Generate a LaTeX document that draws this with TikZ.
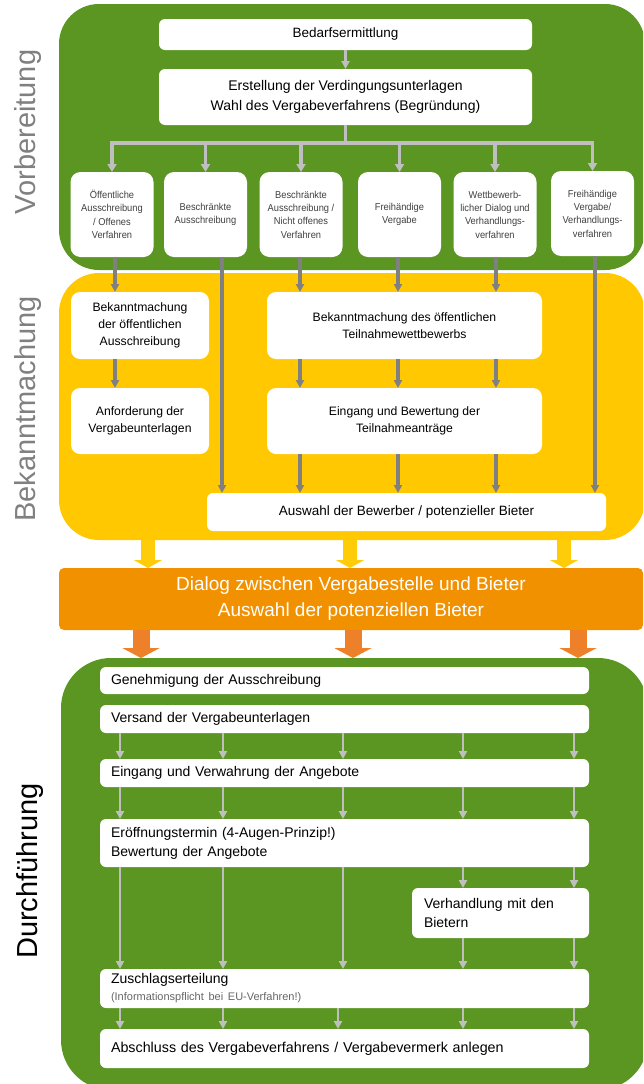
\documentclass[tikz,border=0pt]{standalone}
\usepackage{fontspec}
\setmainfont{Liberation Sans}
\newfontfamily\narrowfont[FakeStretch=0.93]{Liberation Sans}
\usetikzlibrary{calc}
\usetikzlibrary{arrows.meta}

\definecolor{panelgreen}{RGB}{90,150,33}
\definecolor{panelyellow}{RGB}{255,200,0}
\definecolor{dialogorange}{RGB}{242,145,0}
\definecolor{arroworange}{RGB}{238,128,42}
\definecolor{arrowyellow}{RGB}{255,204,10}
\definecolor{lightline}{RGB}{191,191,191}
\definecolor{darkline}{RGB}{128,128,128}
\definecolor{labelgray}{RGB}{128,128,128}

\tikzset{
  panel/.style={inner sep=0pt, outer sep=0pt},
  wbox/.style={fill=white, rounded corners=6pt, inner sep=0pt, outer sep=0pt, align=center, text=black},
  smallbox/.style={wbox, rounded corners=10pt, minimum width=83pt, minimum height=85pt,
    font=\narrowfont\fontsize{10}{13.3}\selectfont, text=black!75},
  midbox/.style={wbox, rounded corners=9pt, font=\fontsize{12.2}{17.3}\selectfont},
  rowbox/.style={wbox, align=left, inner xsep=11pt, text width=467pt, font=\fontsize{14}{19}\selectfont},
  sidelabel/.style={rotate=90, anchor=base, font=\fontsize{29}{30}\selectfont, text=labelgray},
  lightarrow/.style={lightline, line width=2.5pt, -{Triangle[width=8pt,length=8pt]}},
  brancharrow/.style={lightline, line width=3.5pt, -{Triangle[width=9pt,length=8pt]}},
  darkarrow/.style={darkline, line width=3.5pt, -{Triangle[width=8pt,length=8pt]}},
  yblock/.style={arrowyellow, line width=14pt, -{Triangle[width=28pt,length=8pt]}},
  oblock/.style={arroworange, line width=17pt, -{Triangle[width=37pt,length=10pt]}}
}

\begin{document}
\begin{tikzpicture}[x=1pt,y=-1pt]

\path[use as bounding box, clip] (0,0) rectangle (643,1084);

\node[panel, fill=panelgreen, rounded corners=40pt, minimum width=586pt, minimum height=266pt] (vorb) at (352,137) {};
\node[panel, fill=panelyellow, rounded corners=40pt, minimum width=586pt, minimum height=267pt] (bek) at (352,406.5) {};
\node[panel, fill=dialogorange, rounded corners=5pt, minimum width=584pt, minimum height=62pt,
  text=white, align=center, font=\fontsize{19}{26}\selectfont] (dialog) at (351,599)
  {Dialog zwischen Vergabestelle und Bieter\\Auswahl der potenziellen Bieter};
\node[panel, fill=panelgreen, rounded corners=50pt, minimum width=587pt, minimum height=432pt] (durch) at (354.5,874) {};

\node[sidelabel] (lvorb) at (35,132) {Vorbereitung};
\node[sidelabel] (lbek) at (35,409) {Bekanntmachung};
\node[sidelabel, text=black] (ldurch) at (37,871) {Durchführung};

\node[wbox, minimum width=373pt, minimum height=31pt, font=\fontsize{13.5}{19}\selectfont] (bed) at (345.5,34.5) {Bedarfsermittlung};
\node[wbox, minimum width=373pt, minimum height=56pt, font=\fontsize{14}{20}\selectfont] (ers) at (345.5,97)
  {Erstellung der Verdingungsunterlagen\\Wahl des Vergabeverfahrens (Begründung)};

\node[smallbox] (b1) at (112,214.5) {Öffentliche\\Ausschreibung\\/ Offenes\\Verfahren};
\node[smallbox] (b2) at (205.5,214.5) {Beschränkte\\Ausschreibung};
\node[smallbox] (b3) at (301,214.5) {Beschränkte\\Ausschreibung /\\Nicht offenes\\Verfahren};
\node[smallbox] (b4) at (399.5,214.5) {Freihändige\\Vergabe};
\node[smallbox] (b5) at (495,214.5) {Wettbewerb-\\licher Dialog und\\Verhandlungs-\\verfahren};
\node[smallbox] (b6) at (592.5,213.5) {Freihändige\\Vergabe/\\Verhandlungs-\\verfahren};

\node[midbox, minimum width=138pt, minimum height=67pt] (bk1) at (140,325.5) {Bekanntmachung\\der öffentlichen\\Ausschreibung};
\node[midbox, minimum width=138pt, minimum height=66pt] (anf) at (140,421) {Anforderung der\\Vergabeunterlagen};
\node[midbox, minimum width=275pt, minimum height=67pt] (bkt) at (404.5,325.5) {Bekanntmachung des öffentlichen\\Teilnahmewettbewerbs};
\node[midbox, minimum width=275pt, minimum height=66pt] (eing) at (404.5,421) {Eingang und Bewertung der\\Teilnahmeanträge};
\node[wbox, minimum width=399pt, minimum height=38pt, font=\fontsize{13.5}{19}\selectfont] (aw) at (406.5,512) {Auswahl der Bewerber / potenzieller Bieter};

\node[rowbox, minimum height=27pt] (gen) at (344.5,680.5) {Genehmigung der Ausschreibung};
\node[rowbox, minimum height=28pt] (vers) at (344.5,719) {Versand der Vergabeunterlagen};
\node[rowbox, minimum height=28pt] (evw) at (344.5,773) {Eingang und Verwahrung der Angebote};
\node[rowbox, minimum height=48pt] (eroe) at (344.5,843) {Eröffnungstermin (4-Augen-Prinzip!)\\Bewertung der Angebote};
\node[rowbox, text width=153pt, inner xsep=12pt, minimum height=50pt] (verh) at (500.5,913) {Verhandlung mit den\\Bietern};
\node[rowbox, minimum height=39pt] (zus) at (344.5,988.5)
  {Zuschlagserteilung\\[-2pt]{\fontsize{11}{13}\selectfont\color{black!60}(Informationspflicht bei EU-Verfahren!)}};
\node[rowbox, minimum height=39pt, font=\fontsize{14.3}{19}\selectfont] (abs) at (344.5,1048.5) {Abschluss des Vergabeverfahrens / Vergabevermerk anlegen};

\coordinate (hub) at (345,143);
\coordinate (k1) at (115,0);
\coordinate (k2) at (222,0);
\coordinate (k3) at (300,0);
\coordinate (k4) at (398,0);
\coordinate (k5) at (496,0);
\coordinate (k6) at (595,0);
\coordinate (d1) at (120,0);
\coordinate (d2) at (223,0);
\coordinate (d3) at (343,0);
\coordinate (d3b) at (338,0);
\coordinate (d4) at (463,0);
\coordinate (d5) at (574,0);

\draw[lightarrow] (bed) -- (ers);
\foreach \b in {b1,b2,b3,b4,b5,b6}
  \draw[brancharrow] (ers.south) -- (ers.south |- hub) -| (\b.north);

\draw[darkarrow] (b1.south -| k1) -- (bk1.north -| k1);
\draw[darkarrow] (bk1.south -| k1) -- (anf.north -| k1);
\draw[darkarrow] (b2.south -| k2) -- (aw.north -| k2);
\foreach \b/\k in {b3/k3,b4/k4,b5/k5} {
  \draw[darkarrow] (\b.south -| \k) -- (bkt.north -| \k);
  \draw[darkarrow] (bkt.south -| \k) -- (eing.north -| \k);
  \draw[darkarrow] (eing.south -| \k) -- (aw.north -| \k);
}
\draw[darkarrow] (b6.south -| k6) -- (aw.north -| k6);

\foreach \x in {148,350,564}
  \draw[yblock] (bek.south -| \x,0) -- (dialog.north -| \x,0);
\foreach \x in {141,353,578}
  \draw[oblock] (dialog.south -| \x,0) -- (durch.north -| \x,0);

\foreach \d in {d1,d2,d3,d4,d5} {
  \draw[lightarrow] (vers.south -| \d) -- (evw.north -| \d);
  \draw[lightarrow] (evw.south -| \d) -- (eroe.north -| \d);
}
\foreach \d in {d1,d2,d3}
  \draw[lightarrow] (eroe.south -| \d) -- (zus.north -| \d);
\foreach \d in {d4,d5} {
  \draw[lightarrow] (eroe.south -| \d) -- (verh.north -| \d);
  \draw[lightarrow] (verh.south -| \d) -- (zus.north -| \d);
}
\foreach \d in {d1,d2,d3b,d4,d5}
  \draw[lightarrow] (zus.south -| \d) -- (abs.north -| \d);

\end{tikzpicture}
\end{document}
